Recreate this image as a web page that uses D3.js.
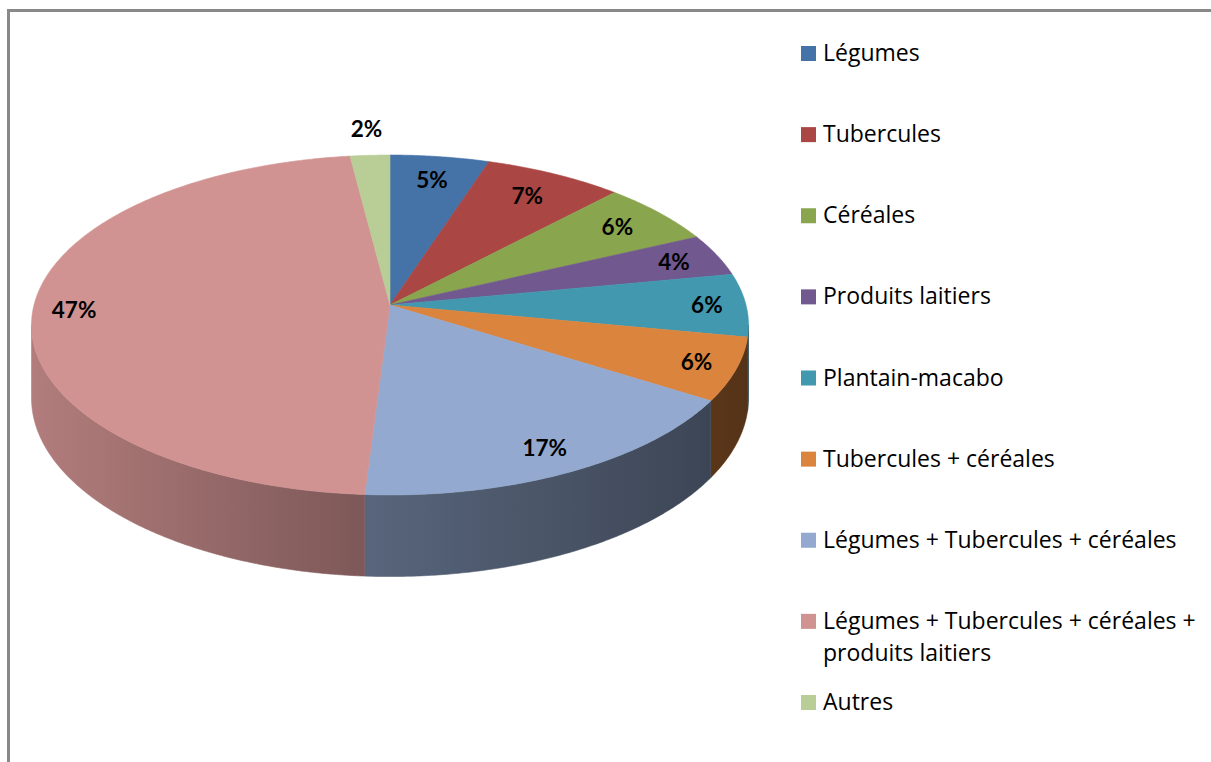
<!DOCTYPE html>
<html><head><meta charset="utf-8">
<script src="https://cdn.jsdelivr.net/npm/d3@7"></script>
<style>html,body{margin:0;padding:0;background:#fff;} svg{display:block}</style>
</head><body>
<svg id="chart" width="1211" height="762"></svg>
<script>
const categories = ["Légumes","Tubercules","Céréales","Produits laitiers","Plantain-macabo","Tubercules + céréales","Légumes + Tubercules + céréales","Légumes + Tubercules + céréales + produits laitiers","Autres"];
const legendLines = [["Légumes"],["Tubercules"],["Céréales"],["Produits laitiers"],["Plantain-macabo"],["Tubercules + céréales"],["Légumes + Tubercules + céréales"],["Légumes + Tubercules + céréales +","produits laitiers"],["Autres"]];
const values = [5,7,6,4,6,6,17,47,2];
const valueLabels = ["5%","7%","6%","4%","6%","6%","17%","47%","2%"];
const colors = ["#4572A7","#AA4643","#89A54E","#71588F","#4198AF","#DB843D","#93A9CF","#D19392","#B9CD96"];

const svg = d3.select("#chart");
const LBL_FONT = "Lato, 'Open Sans', sans-serif";
const LEG_FONT = "'Open Sans', Lato, sans-serif";

// frame
svg.append("rect").attr("x",8.5).attr("y",10.5).attr("width",1400).attr("height",1000)
  .attr("fill","#fff").attr("stroke","#898989").attr("stroke-width",3);

// 3D projection of the pie
const cx = 390, cy = 305, RX = 356, RY = 167.6, PERSP = 0.1176, DEPTH = 72;
function proj(t, f, z) {
  const X = f*Math.sin(t), Y = -f*Math.cos(t);
  const w = 1 - PERSP*Y;
  return [cx + RX*X/w, cy + (RY*Y + DEPTH*z)/w];
}
function insideTop(sx, sy) {
  const u = (sx - cx)/RX, v = (sy - cy)/RY;
  const Y = v/(1 + PERSP*v), X = u*(1 - PERSP*Y);
  return X*X + Y*Y <= 1;
}
function arcPts(a0, a1, f, z) {
  const n = Math.max(2, Math.ceil((a1-a0)/(Math.PI/360)));
  return d3.range(n+1).map(i => proj(a0 + (a1-a0)*i/n, f, z));
}
const arcs = d3.pie().sort(null).value(d => d)(values);
const line = d3.line();

const defs = svg.append("defs");
const shade = d3.scaleLinear().domain([31, 365, 748]).range([0.85, 0.6, 0.39]).clamp(true);

const gPie = svg.append("g");
const tMin = Math.acos(-PERSP), tMax = 2*Math.PI - tMin;

// sides
arcs.forEach((a, i) => {
  const s0 = Math.max(a.startAngle, tMin), s1 = Math.min(a.endAngle, tMax);
  if (s1 <= s0) return;
  const gid = "side" + i;
  const grad = defs.append("linearGradient").attr("id", gid)
    .attr("gradientUnits","userSpaceOnUse").attr("x1",31).attr("x2",748).attr("y1",0).attr("y2",0);
  d3.range(0, 1.0001, 0.05).forEach(o => {
    const x = 31 + o*(748-31);
    const c = d3.rgb(colors[i]), k = shade(x);
    grad.append("stop").attr("offset", o)
      .attr("stop-color", d3.rgb(c.r*k, c.g*k, c.b*k).formatHex());
  });
  const pts = arcPts(s0, s1, 1, 0).concat(arcPts(s0, s1, 1, 1).reverse());
  gPie.append("path").attr("d", line(pts) + "Z")
    .attr("fill", `url(#${gid})`).attr("stroke", `url(#${gid})`).attr("stroke-width", 0.6);
});

// tops
arcs.forEach((a, i) => {
  const pts = [proj(0,0,0)].concat(arcPts(a.startAngle, a.endAngle, 1, 0));
  gPie.append("path").attr("d", line(pts) + "Z")
    .attr("fill", colors[i]).attr("stroke", colors[i]).attr("stroke-width", 0.6);
});

// value labels (best-fit: inside near rim, pulled inward until box fits; tiny slices outside)
const lblSize = 22.5;
const gLbl = svg.append("g").attr("font-family", LBL_FONT).attr("font-weight", "bold")
  .attr("font-size", lblSize).attr("fill", "#000").attr("text-anchor", "middle");
arcs.forEach((a, i) => {
  const mid = (a.startAngle + a.endAngle)/2;
  const txt = gLbl.append("text").text(valueLabels[i]);
  const hw = txt.node().getComputedTextLength()/2 + 10, hh = 11 + 11;
  let p;
  if (values[i] < 3) {
    p = proj(mid, 1.2, 0);
  } else {
    let f = 0.89;
    p = proj(mid, f, 0);
    while (f > 0.4 && !(insideTop(p[0]-hw, p[1]-hh) && insideTop(p[0]+hw, p[1]-hh) &&
                        insideTop(p[0]-hw, p[1]+hh) && insideTop(p[0]+hw, p[1]+hh))) {
      f -= 0.005; p = proj(mid, f, 0);
    }
  }
  txt.attr("x", p[0]).attr("y", p[1] + lblSize*0.36);
});

// legend
const legY = d3.scaleLinear().domain([0, categories.length-1]).range([53.5, 702.5]);
let legSize = 22;
const gLeg = svg.append("g").attr("font-family", LEG_FONT).attr("fill", "#000");
// fit the longest legend line to the reference width
const probe = gLeg.append("text").attr("font-size", 100).text(legendLines[7][0]);
legSize = 100 * 373 / probe.node().getComputedTextLength();
probe.remove();
gLeg.attr("font-size", legSize);
categories.forEach((c, i) => {
  const y = legY(i);
  gLeg.append("rect").attr("x", 801).attr("y", y - 7.5).attr("width", 15).attr("height", 15).attr("fill", colors[i]);
  legendLines[i].forEach((t, j) => {
    gLeg.append("text").attr("x", 823).attr("y", y + 7.5 + j*32).text(t);
  });
});
</script>
</body></html>
